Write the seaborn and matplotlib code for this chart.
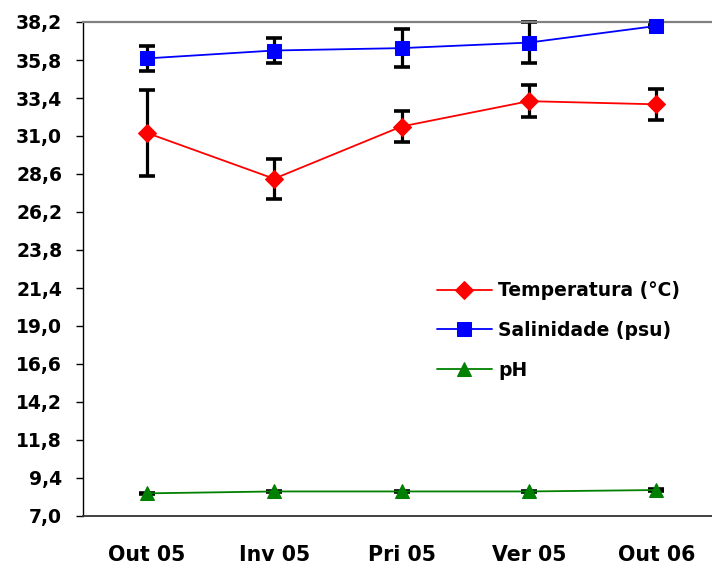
import matplotlib
matplotlib.use("Agg")
import matplotlib.pyplot as plt
import seaborn as sns
import numpy as np
import pandas as pd

# ---- data ----
categories = ["Out 05", "Inv 05", "Pri 05", "Ver 05", "Out 06"]
temperatura = [31.2, 28.3, 31.6, 33.2, 33.0]
temperatura_err = [2.7, 1.25, 1.0, 1.0, 1.0]
salinidade = [35.9, 36.4, 36.55, 36.9, 37.95]
salinidade_err = [0.78, 0.77, 1.2, 1.3, 0.06]
ph = [8.43, 8.55, 8.55, 8.55, 8.64]
ph_err = [0.05, 0.05, 0.05, 0.05, 0.05]
series_names = ["Temperatura (°C)", "Salinidade (psu)", "pH"]
y_ticks = [7.0, 9.4, 11.8, 14.2, 16.6, 19.0, 21.4, 23.8, 26.2, 28.6, 31.0, 33.4, 35.8, 38.2]
y_tick_labels = ["7,0", "9,4", "11,8", "14,2", "16,6", "19,0", "21,4", "23,8",
                 "26,2", "28,6", "31,0", "33,4", "35,8", "38,2"]

sns.set_style("white")
plt.rcParams["font.family"] = ["DejaVu Sans"]
plt.rcParams["text.color"] = "black"
plt.rcParams["xtick.color"] = "black"
plt.rcParams["ytick.color"] = "black"
plt.rcParams["axes.labelcolor"] = "black"

fig = plt.figure(figsize=(7.12, 5.64), dpi=100)
ax = fig.add_axes([83 / 712, 48 / 564, 637 / 712, 494 / 564])

x = np.arange(len(categories))
df = pd.DataFrame({
    "x": np.tile(x, 3),
    "valor": temperatura + salinidade + ph,
    "erro": temperatura_err + salinidade_err + ph_err,
    "serie": np.repeat(series_names, len(categories)),
})

colors = {"Temperatura (°C)": "#ff0000", "Salinidade (psu)": "#0000ff", "pH": "#008000"}
markers = {"Temperatura (°C)": "D", "Salinidade (psu)": "s", "pH": "^"}
msizes = {"Temperatura (°C)": 9, "Salinidade (psu)": 9.5, "pH": 10.5}

for name in series_names:
    sub = df[df["serie"] == name]
    eb = ax.errorbar(sub["x"], sub["valor"], yerr=sub["erro"], fmt="none",
                     ecolor="black", elinewidth=2.3, capsize=5.5, capthick=2.6, zorder=2)
    for art in list(eb.lines[1]) + list(eb.lines[2]):
        art.set_clip_on(False)

for name in series_names:
    sub = df[df["serie"] == name]
    sns.lineplot(data=sub, x="x", y="valor", ax=ax, color=colors[name],
                 marker=markers[name], markersize=msizes[name],
                 markeredgecolor=colors[name], linewidth=1.3,
                 label=name, zorder=3, sort=False, clip_on=False)

ax.set_xlim(-0.5, len(categories) - 0.5)
ax.set_ylim(7.0, 38.2)
ax.set_yticks(y_ticks)
ax.set_yticklabels(y_tick_labels, fontsize=13.5, fontweight="bold", color="black")
ax.set_xticks(x)
ax.set_xticklabels(categories, fontsize=14.8, fontweight="bold", color="black")
ax.set_xticks(np.arange(-0.5, len(categories), 1.0), minor=True)
ax.tick_params(axis="x", which="major", length=0, pad=21)
ax.tick_params(axis="x", which="minor", length=5, width=1, color="#333333", direction="out")
ax.tick_params(axis="y", length=5, width=1, color="black", direction="out", pad=10, left=True)
ax.set_xlabel("")
ax.set_ylabel("")

ax.spines["left"].set_color("black")
ax.spines["left"].set_linewidth(1.0)
ax.spines["bottom"].set_color("#333333")
ax.spines["bottom"].set_linewidth(1.3)
ax.spines["top"].set_color("#808080")
ax.spines["top"].set_linewidth(1.6)
ax.spines["right"].set_visible(False)

leg = ax.legend(loc="upper left", bbox_to_anchor=(0.556, 0.475), frameon=False,
                prop={"weight": "bold", "size": 13.5}, handlelength=2.9,
                handletextpad=0.35, labelspacing=1.1, borderaxespad=0, borderpad=0)
for t in leg.get_texts():
    t.set_color("black")

fig.savefig("out.png", dpi=100)
